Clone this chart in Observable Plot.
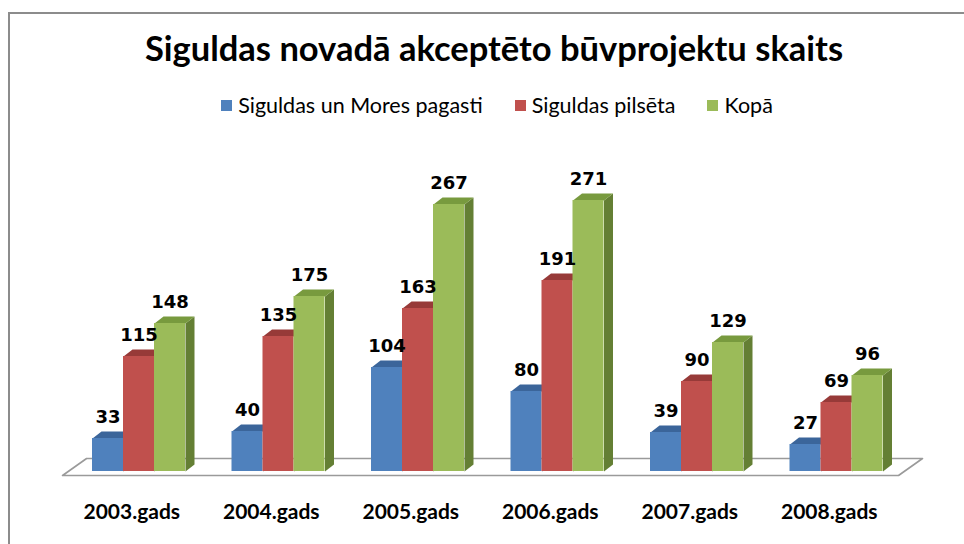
<!DOCTYPE html>
<html>
<head>
<meta charset="utf-8">
<script src="https://cdn.jsdelivr.net/npm/d3@7"></script>
<script src="https://cdn.jsdelivr.net/npm/@observablehq/plot@0.6"></script>
<style>
  html, body { margin: 0; padding: 0; background: #fff; width: 964px; height: 544px; overflow: hidden; }
  #frame { position: absolute; left: 8px; top: 12px; width: 2000px; height: 2000px; border-left: 2px solid #8c8c8c; border-top: 2px solid #8c8c8c; }
  #title { position: absolute; left: 8px; width: 972px; top: 27px; text-align: center; font-family: Lato, "Open Sans", sans-serif; font-weight: bold; font-size: 34.5px; color: #000; white-space: nowrap; }
  #legend { position: absolute; left: 8px; width: 978px; top: 92px; display: flex; justify-content: center; align-items: center; font-family: Lato, "Open Sans", sans-serif; font-size: 21.5px; color: #000; white-space: nowrap; }
  .li { display: flex; align-items: center; margin: 0 16px; }
  .sw { width: 11px; height: 11px; margin-right: 6px; }
  #chart { position: absolute; left: 0; top: 130px; }
</style>
</head>
<body>
<div id="frame"></div>
<div id="title">Siguldas novadā akceptēto būvprojektu skaits</div>
<div id="legend"></div>
<div id="chart"></div>
<script>
const years = ["2003.gads", "2004.gads", "2005.gads", "2006.gads", "2007.gads", "2008.gads"];
const seriesNames = ["Siguldas un Mores pagasti", "Siguldas pilsēta", "Kopā"];
const pagasti = [33, 40, 104, 80, 39, 27];
const pilseta = [115, 135, 163, 191, 90, 69];
const kopa = [148, 175, 267, 271, 129, 96];
const frontColors = ["#4F81BD", "#C0504D", "#9BBB59"];
const topColors = ["#3B659A", "#973A38", "#789A3E"];
const sideColors = ["#345A88", "#85322F", "#647F34"];

const seriesValues = [pagasti, pilseta, kopa];

// layout constants (pixel-based geometry)
const groupPx = 139.5;          // px per category
const firstCenterPx = 138.5;    // px of first category center
const barW = 31 / groupPx;      // bar width in category units
const depthX = 9 / groupPx;     // 3D depth in x units
const depthY = 7;               // 3D depth in value units (1 unit = 1 px)
const W = 964, H = 414, baseY = 341;

// legend (HTML)
const legend = document.getElementById("legend");
seriesNames.forEach((n, s) => {
  const d = document.createElement("div");
  d.className = "li";
  d.innerHTML = `<span class="sw" style="background:${frontColors[s]}"></span><span>${n}</span>`;
  legend.appendChild(d);
});

const bars = [];
const tops = [];
const sides = [];
years.forEach((yr, i) => {
  seriesValues.forEach((vals, s) => {
    const v = vals[i];
    const xl = i + (s - 1.5) * barW;
    const xr = xl + barW;
    const id = yr + "-" + s;
    bars.push({year: yr, s, v, xl, xr, xc: (xl + xr) / 2, front: frontColors[s]});
    [[xl, v], [xr, v], [xr + depthX, v + depthY], [xl + depthX, v + depthY]]
      .forEach(([x, y]) => tops.push({id, x, y, c: topColors[s]}));
    [[xr, 0], [xr + depthX, depthY], [xr + depthX, v + depthY], [xr, v]]
      .forEach(([x, y]) => sides.push({id, x, y, c: sideColors[s]}));
  });
});

// floor parallelogram
const n = years.length;
const fl = -0.548, fr = n - 1 + 0.4445, fdx = 24 / groupPx, fy0 = -4, fy1 = 13;
const floor = [[fl, fy0], [fr, fy0], [fr + fdx, fy1], [fl + fdx, fy1], [fl, fy0]].map(([x, y]) => ({x, y}));
const catCenterOffset = (fl + fr) / 2 - (n - 1) / 2;
const cats = years.map((yr, i) => ({yr, x: i + catCenterOffset}));

const xDomain = [-firstCenterPx / groupPx, (W - firstCenterPx) / groupPx];
const yDomain = [-(H - baseY), baseY];

const plot = Plot.plot({
  width: W,
  height: H,
  margin: 0,
  x: {type: "linear", domain: xDomain, axis: null},
  y: {type: "linear", domain: yDomain, axis: null},
  color: {type: "identity"},
  marks: [
    Plot.line(floor, {x: "x", y: "y", fill: "#ffffff", stroke: "#9a9a9a", strokeWidth: 1.6}),
    Plot.line(sides, {x: "x", y: "y", z: "id", fill: "c", stroke: null, curve: "linear"}),
    Plot.line(tops, {x: "x", y: "y", z: "id", fill: "c", stroke: null, curve: "linear"}),
    Plot.rect(bars, {x1: "xl", x2: "xr", y1: 0, y2: "v", fill: "front"}),
    Plot.text(bars, {x: "xc", y: d => d.v + depthY + 9, text: d => String(d.v), lineAnchor: "bottom",
      fontFamily: "DejaVu Sans", fontWeight: "bold", fontSize: 18, fill: "#000"}),
    Plot.text(cats, {x: "x", y: -41, text: "yr", lineAnchor: "middle",
      fontFamily: "Lato", fontWeight: "bold", fontSize: 21, fill: "#000"})
  ]
});
document.getElementById("chart").appendChild(plot);
</script>
</body>
</html>
